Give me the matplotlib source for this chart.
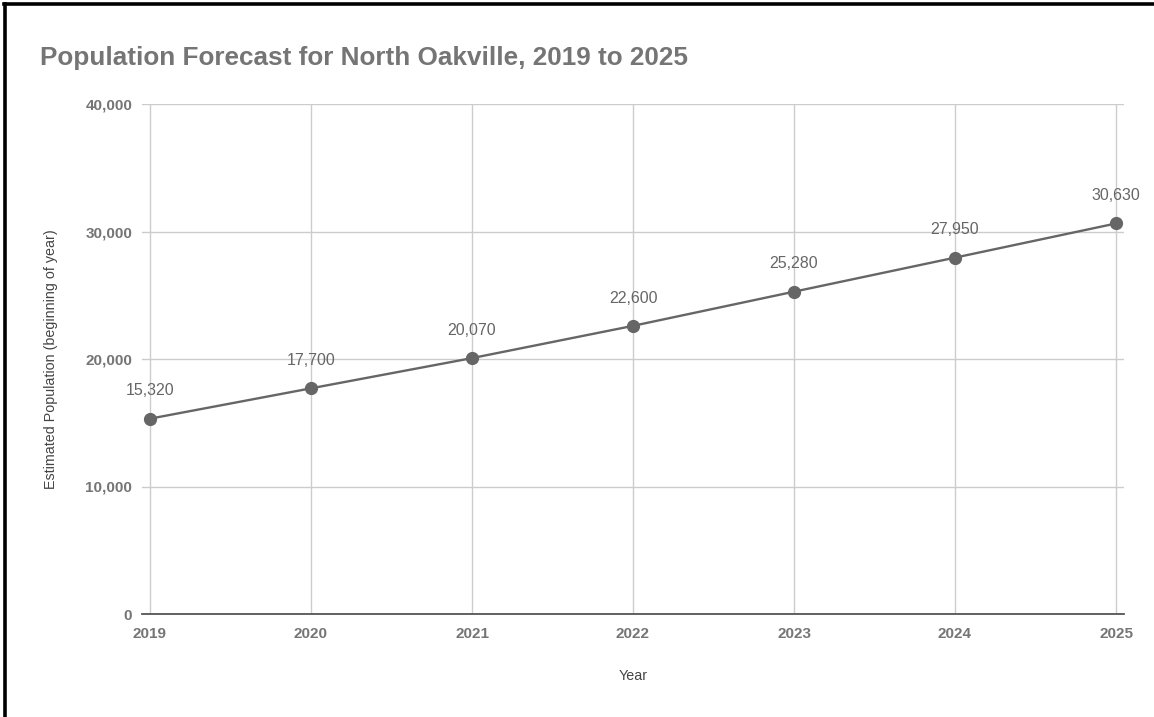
import numpy as np
import matplotlib.pyplot as plt
from matplotlib.ticker import FuncFormatter

plt.rcParams['font.family'] = ['Liberation Sans', 'DejaVu Sans']

years = [2019, 2020, 2021, 2022, 2023, 2024, 2025]
population = [15320, 17700, 20070, 22600, 25280, 27950, 30630]
yticks = [0, 10000, 20000, 30000, 40000]

grey_text = '#757575'
line_col = '#666666'

fig = plt.figure(figsize=(11.54, 7.17), dpi=100)
ax = fig.add_axes([142/1154, 1-614/717, (1124-142)/1154, (614-104)/717])

ax.plot(years, population, color=line_col, lw=1.7, marker='o', ms=8.5, zorder=3)
for x, y in zip(years, population):
    ax.annotate('{:,}'.format(y), (x, y), xytext=(0, 20), textcoords='offset points',
                ha='center', va='center', fontsize=11.5, color='#666666')

ax.set_xlim(2019 - 8/161, 2025 + 8/161)
ax.set_ylim(0, 40000)
ax.set_xticks(years)
ax.set_yticks(yticks)
ax.yaxis.set_major_formatter(FuncFormatter(lambda v, p: '{:,}'.format(int(v))))
ax.grid(True, color='#cccccc', lw=1)
ax.set_axisbelow(True)
for s in ['top', 'right', 'left']:
    ax.spines[s].set_visible(False)
ax.spines['bottom'].set_color('#555555')
ax.spines['bottom'].set_linewidth(1.3)
ax.tick_params(axis='x', length=0, pad=9, colors=grey_text, labelsize=11)
ax.tick_params(axis='y', length=0, pad=7, colors=grey_text, labelsize=11)
for lab in ax.get_xticklabels() + ax.get_yticklabels():
    lab.set_fontweight('bold')

ax.set_xlabel('Year', fontsize=10.3, color='#444444', labelpad=20.5)
ax.set_ylabel('Estimated Population (beginning of year)', fontsize=10.3, color='#444444', labelpad=20)

fig.text(40/1154, 1-58/717, 'Population Forecast for North Oakville, 2019 to 2025',
         fontsize=18.8, fontweight='bold', color=grey_text, va='center', ha='left')

# black frame on top and left
fig.add_artist(plt.Line2D([3.5/1154, 1], [1-3.5/717, 1-3.5/717], color='black', lw=2.6,
                          transform=fig.transFigure))
fig.add_artist(plt.Line2D([5/1154, 5/1154], [0, 1-3.5/717], color='black', lw=2.6,
                          transform=fig.transFigure))

fig.savefig('out.png', dpi=100, facecolor='white')
